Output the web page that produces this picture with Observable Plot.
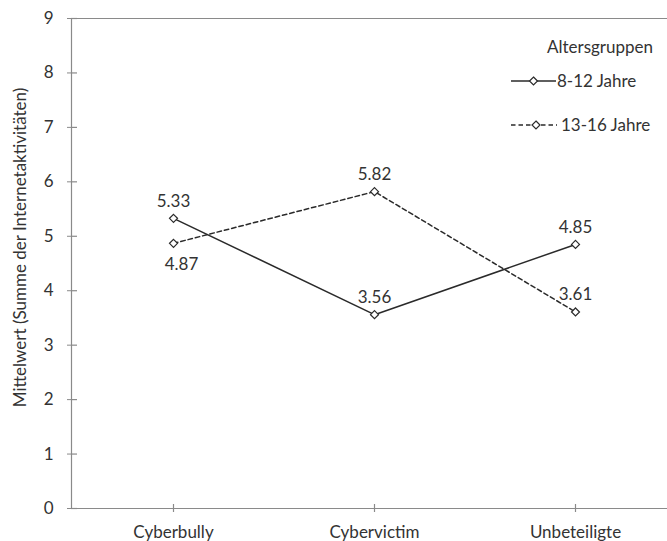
<!DOCTYPE html>
<html><head><meta charset="utf-8">
<script src="https://cdn.jsdelivr.net/npm/d3@7"></script>
<script src="https://cdn.jsdelivr.net/npm/@observablehq/plot@0.6"></script>
<style>
body{margin:0;background:#fff;}
#wrap{position:relative;width:667px;height:541px;font-family:Lato, "Open Sans", sans-serif;color:#333;}
.lg{position:absolute;font-size:17px;line-height:20px;white-space:nowrap;}
.lg svg{position:absolute;}
</style></head><body><div id="wrap"></div>
<script>
const categories = ["Cyberbully", "Cybervictim", "Unbeteiligte"];
const groups = ["8-12 Jahre", "13-16 Jahre"];
const values812 = [5.33, 3.56, 4.85];
const values1316 = [4.87, 5.82, 3.61];
const yTicks = [0, 1, 2, 3, 4, 5, 6, 7, 8, 9];
const yLabel = "Mittelwert (Summe der Internetaktivitäten)";
const legendTitle = "Altersgruppen";

const data = [
  ...categories.map((c, i) => ({cat: c, group: groups[0], v: values812[i]})),
  ...categories.map((c, i) => ({cat: c, group: groups[1], v: values1316[i]}))
];
const g1 = data.filter(d => d.group === groups[0]);
const g2 = data.filter(d => d.group === groups[1]);
const below = data.filter(d => d.group === groups[1] && d.cat === categories[0]);
const above = data.filter(d => !below.includes(d));

const axisColor = "#8a8a8a";
const ink = "#2a2a2a";
const fs = 17;

const chart = Plot.plot({
  width: 667, height: 541,
  marginLeft: 71, marginRight: 0, marginTop: 18, marginBottom: 33,
  style: {fontFamily: "Lato, 'Open Sans', sans-serif", fontSize: fs + "px", color: "#333", background: "white", overflow: "visible"},
  x: {type: "point", domain: categories, range: [172, 575], padding: 0, axis: null},
  y: {domain: [0, 9], axis: null},
  marks: [
    Plot.ruleY([0, 9], {stroke: axisColor, strokeWidth: 1.2}),
    Plot.frame({anchor: "left", stroke: axisColor, strokeWidth: 1.2}),
    Plot.axisY({ticks: yTicks, tickSize: 4, tickPadding: 14, label: null, stroke: axisColor, fill: "#333", fontSize: fs}),
    Plot.tickY(yTicks, {y: d => d, insetRight: 590, stroke: axisColor, strokeWidth: 1.2}),
    Plot.ruleX(categories, {x: d => d, y1: 0, y2: 0, insetTop: -4, insetBottom: -4, stroke: axisColor, strokeWidth: 1.2}),
    Plot.axisX({tickSize: 0, tickPadding: 17, label: null, fill: "#333", fontSize: fs}),
    Plot.text([yLabel], {text: d => d, frameAnchor: "left", textAnchor: "middle", rotate: -90, dx: -51, dy: -16, fill: "#333", fontSize: fs}),
    Plot.line(g1, {x: "cat", y: "v", stroke: ink, strokeWidth: 1.5}),
    Plot.line(g2, {x: "cat", y: "v", stroke: ink, strokeWidth: 1.5, strokeDasharray: "4.5,3"}),
    Plot.dot(data, {x: "cat", y: "v", symbol: "diamond2", r: 3.6, fill: "white", stroke: ink, strokeWidth: 1.2}),
    Plot.text(above, {x: "cat", y: "v", text: d => d.v.toFixed(2), dy: -17, fill: "#333", fontSize: fs}),
    Plot.text(below, {x: "cat", y: "v", text: d => d.v.toFixed(2), dy: 21, dx: 8, fill: "#333", fontSize: fs})
  ]
});
const wrap = document.getElementById("wrap");
wrap.appendChild(chart);

function diamond(cx, cy) {
  return `<path d="M${cx},${cy-4}L${cx+4},${cy}L${cx},${cy+4}L${cx-4},${cy}Z" fill="white" stroke="${ink}" stroke-width="1.2"/>`;
}
const lt = document.createElement("div");
lt.className = "lg"; lt.style.left = "547px"; lt.style.top = "37px"; lt.textContent = legendTitle;
wrap.appendChild(lt);

const r1 = document.createElement("div");
r1.className = "lg"; r1.style.left = "511px"; r1.style.top = "71px";
r1.innerHTML = `<svg width="46" height="20" style="left:0;top:0">` +
  `<line x1="0" x2="45" y1="10" y2="10" stroke="${ink}" stroke-width="1.5"/>${diamond(22.5, 10)}</svg>` +
  `<span style="position:absolute;left:46px;top:0">${groups[0]}</span>`;
wrap.appendChild(r1);

const r2 = document.createElement("div");
r2.className = "lg"; r2.style.left = "511px"; r2.style.top = "115px";
r2.innerHTML = `<svg width="48" height="20" style="left:0;top:0">` +
  `<line x1="0" x2="46" y1="10" y2="10" stroke="${ink}" stroke-width="1.5" stroke-dasharray="4.5,3"/>${diamond(25, 10)}</svg>` +
  `<span style="position:absolute;left:50px;top:0">${groups[1]}</span>`;
wrap.appendChild(r2);
</script>
</body></html>
